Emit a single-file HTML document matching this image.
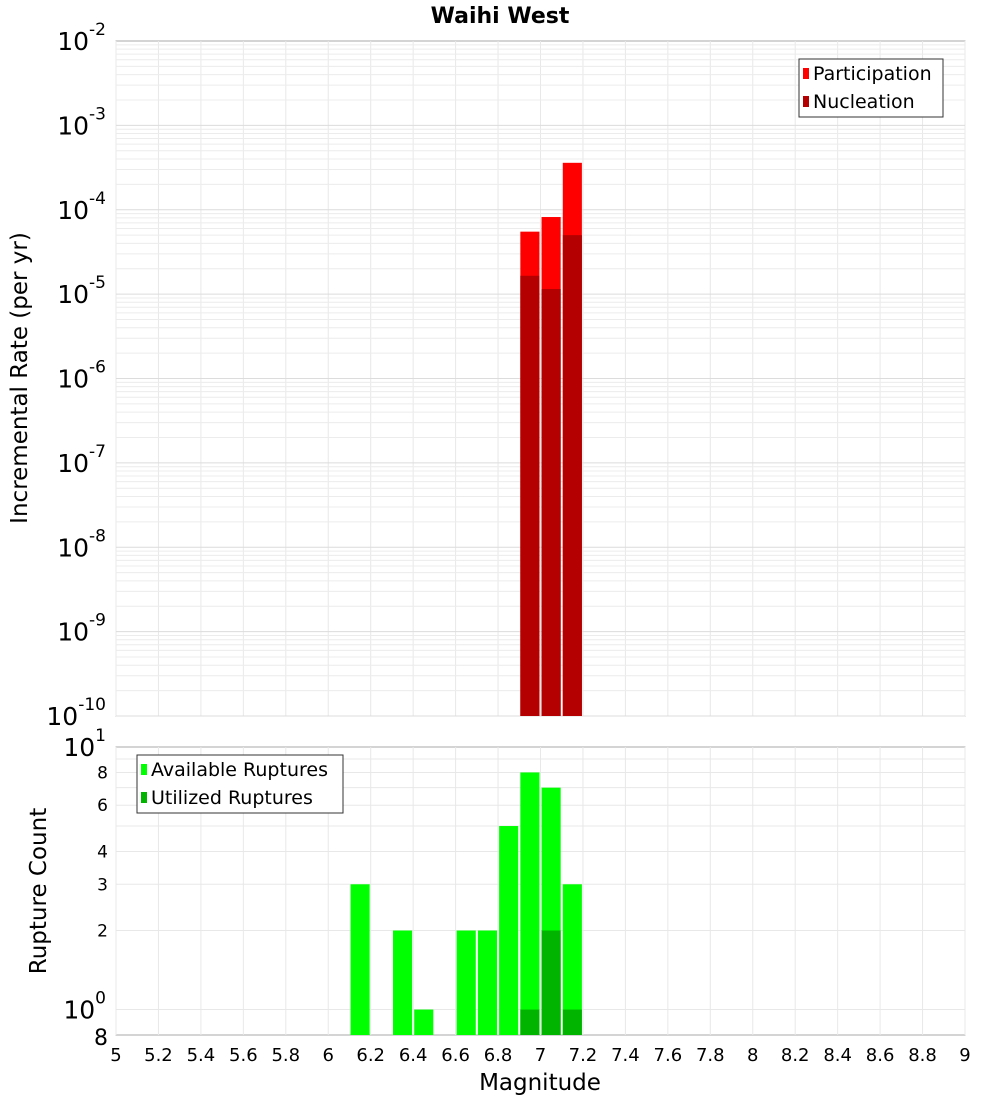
<!DOCTYPE html>
<html><head><meta charset="utf-8"><style>
body{margin:0;background:#fff;width:1000px;height:1100px;overflow:hidden}
svg{font-family:"DejaVu Sans","Liberation Sans",sans-serif}
</style></head><body>
<svg id="c" width="1000" height="1100"></svg>
<script>
const magBins=[6.15,6.35,6.45,6.65,6.75,6.85,6.95,7.05,7.15];
const rateBins=[6.95,7.05,7.15];
const participation=[5.5e-5,8.2e-5,3.6e-4];
const nucleation=[1.65e-5,1.15e-5,5.0e-5];
const available=[3,2,1,2,2,5,8,7,3];
const utilized=[0,0,0,0,0,0,1,2,1];
const xTicks=["5","5.2","5.4","5.6","5.8","6","6.2","6.4","6.6","6.8","7","7.2","7.4","7.6","7.8","8","8.2","8.4","8.6","8.8","9"];
const topExps=[-2,-3,-4,-5,-6,-7,-8,-9,-10];
const botTicks=[2,3,4,6,8];

const NS="http://www.w3.org/2000/svg";
const svg=document.getElementById('c');
function el(t,a,txt){const e=document.createElementNS(NS,t);for(const k in a)e.setAttribute(k,a[k]);if(txt!==undefined)e.textContent=txt;svg.appendChild(e);return e;}
const L=116,R=965;
const x=v=>L+(v-5)/4*(R-L);
const T0=41,T1=716;
const yT=v=>T0+(-2-Math.log10(v))/8*(T1-T0);
const B0=747,B1=1035;
const yB=v=>B0+(1-Math.log10(v))/(1-Math.log10(0.8))*(B1-B0);

let p=el('rect',{x:L,y:T0,width:R-L,height:T1-T0,fill:'#fff',stroke:'#aaa'});

p=el('rect',{x:L,y:B0,width:R-L,height:B1-B0,fill:'#fff',stroke:'#aaa'});

for(let i=0;i<xTicks.length;i++){const xv=x(+xTicks[i]);
 let g=el('line',{x1:xv,x2:xv,y1:T0,y2:T1,stroke:'#e8e8e8'});
 g=el('line',{x1:xv,x2:xv,y1:B0,y2:B1,stroke:'#e8e8e8'});}
for(let e=-10;e<-2;e++)for(let m=1;m<10;m++){const yv=yT(m*Math.pow(10,e));
 const g=el('line',{x1:L,x2:R,y1:yv,y2:yv,stroke:m==1?'#dcdcdc':'#ececec'});}
for(const v of [1,2,3,4,5,6,7,8,9]){const yv=yB(v);
 const g=el('line',{x1:L,x2:R,y1:yv,y2:yv,stroke:'#e8e8e8'});}
const hw=0.045;
for(let i=0;i<rateBins.length;i++){
 let b=el('rect',{x:x(rateBins[i]-hw),width:x(rateBins[i]+hw)-x(rateBins[i]-hw),y:yT(participation[i]),height:T1-yT(participation[i]),fill:'#ff0000'});
 
 b=el('rect',{x:x(rateBins[i]-hw),width:x(rateBins[i]+hw)-x(rateBins[i]-hw),y:yT(nucleation[i]),height:T1-yT(nucleation[i]),fill:'#b40000'});
 }
for(let i=0;i<magBins.length;i++){
 let b=el('rect',{x:x(magBins[i]-hw),width:x(magBins[i]+hw)-x(magBins[i]-hw),y:yB(available[i]),height:B1-yB(available[i]),fill:'#00ff00'});
 
 if(utilized[i]>0){b=el('rect',{x:x(magBins[i]-hw),width:x(magBins[i]+hw)-x(magBins[i]-hw),y:yB(utilized[i]),height:B1-yB(utilized[i]),fill:'#00b400'});
 }}
for(const t of xTicks){const tx=el('text',{x:x(+t),y:1061,'font-size':18,'text-anchor':'middle'},t);}
for(const e of topExps){const yv=yT(Math.pow(10,e));
 const g=el('text',{x:106,y:yv+9,'font-size':25,'text-anchor':'end'});
 const a=document.createElementNS(NS,'tspan');a.textContent='10';g.appendChild(a);
 const s=document.createElementNS(NS,'tspan');s.setAttribute('dy','-15');s.setAttribute('font-size','17');s.textContent=String(e);g.appendChild(s);}
function bigLab(v,exp){const g=el('text',{x:106,y:yB(v)+9,'font-size':25,'text-anchor':'end'});
 const a=document.createElementNS(NS,'tspan');a.textContent='10';g.appendChild(a);
 const s=document.createElementNS(NS,'tspan');s.setAttribute('dy','-15');s.setAttribute('font-size','17');s.textContent=exp;g.appendChild(s);}
bigLab(10,'1');bigLab(1,'0');
for(const v of botTicks){const t=el('text',{x:108,y:yB(v)+6,'font-size':17,'text-anchor':'end'},String(v));}
let t8=el('text',{x:108,y:B1+10,'font-size':22,'text-anchor':'end'},'8');
let t=el('text',{x:500,y:23,'font-size':22,'font-weight':'bold','text-anchor':'middle'},'Waihi West');
t=el('text',{x:540,y:1090,'font-size':23,'text-anchor':'middle'},'Magnitude');
t=el('text',{x:0,y:0,'font-size':23,'text-anchor':'middle',transform:'translate(27,378) rotate(-90)'},'Incremental Rate (per yr)');
t=el('text',{x:0,y:0,'font-size':23,'text-anchor':'middle',transform:'translate(46,891) rotate(-90)'},'Rupture Count');
function legend(x0,y0,w,items,name){const r=el('rect',{x:x0,y:y0,width:w,height:58,fill:'#fff',stroke:'#333'});
 items.forEach((it,i)=>{const sw=el('rect',{x:x0+4,y:y0+9+i*28,width:6,height:11,fill:it[1]});
 const tx=el('text',{x:x0+14,y:y0+21+i*28,'font-size':19},it[0]);});}
legend(799,59,144,[['Participation','#ff0000'],['Nucleation','#b40000']],'legend-top');
legend(137,755,206,[['Available Ruptures','#00ff00'],['Utilized Ruptures','#00b400']],'legend-bottom');
</script>
</body></html>
